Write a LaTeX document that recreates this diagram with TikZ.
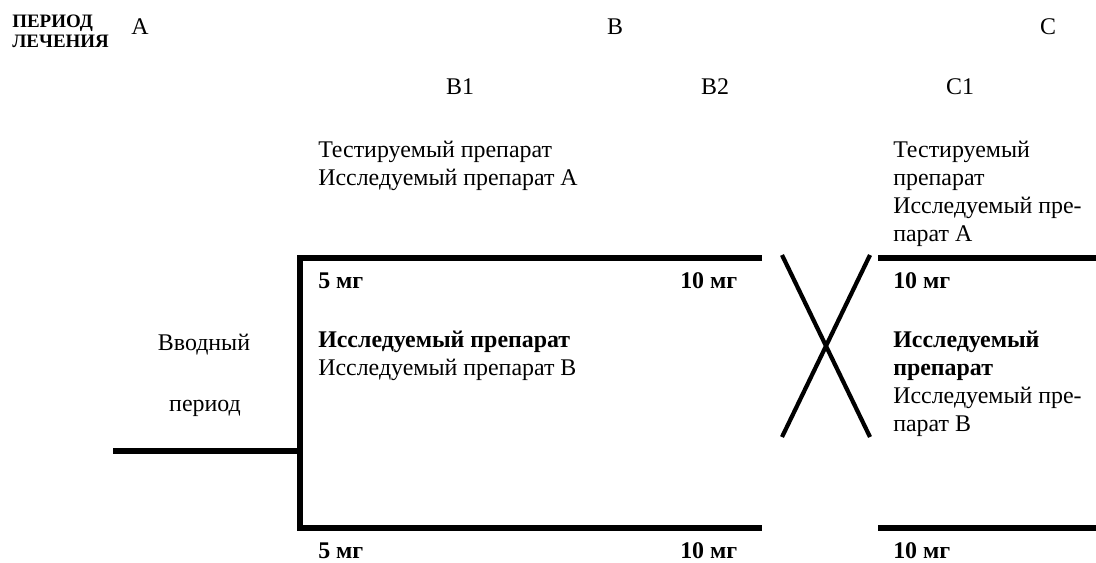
\documentclass[tikz,border=0pt]{standalone}
\usepackage{fontspec}
\setmainfont{Liberation Serif}
\usetikzlibrary{positioning}
\newcommand{\txtsize}{\fontsize{17}{19.9}\selectfont}

\begin{document}
\begin{tikzpicture}[x=0.025cm, y=0.025cm,
    lbl/.style={font=\txtsize, inner sep=0pt},
    dose/.style={font=\txtsize\bfseries, inner sep=0pt, anchor=west},
    hdr/.style={font=\fontsize{13.5}{14}\selectfont\bfseries, inner sep=0pt, align=left},
    block/.style={font=\txtsize, inner sep=0pt, anchor=north west, align=left},
    bar/.style={line width=3.6pt},
    cross/.style={line width=3pt}]
  \useasboundingbox (0,0) rectangle (1096,562);

  % Header
  \node[hdr, anchor=west] (period) at (12,531) {ПЕРИОД\\ЛЕЧЕНИЯ};
  \node[lbl] (perA) at (140,535) {A};
  \node[lbl] (perB) at (615,535) {B};
  \node[lbl] (perC) at (1048,535) {C};
  \node[lbl] (stepB1) at (460,475) {B1};
  \node[lbl] (stepB2) at (715,475) {B2};
  \node[lbl] (stepC1) at (960,475) {C1};

  % Run-in period
  \node[lbl] (runin1) at (204,217) {Вводный};
  \node[lbl] (runin2) at (205,154) {период};

  % Arms of period B
  \node[block] (armA) at (318,421) {Тестируемый препарат\\Исследуемый препарат А};
  \node[block] (armB) at (318,231) {\textbf{Исследуемый препарат}\\Исследуемый препарат В};
  \node[dose] (doseAa) at (318,281) {5 мг};
  \node[dose] (doseAb) at (680,281) {10 мг};
  \node[dose] (doseBa) at (318,11) {5 мг};
  \node[dose] (doseBb) at (680,11) {10 мг};

  % Arms of period C
  \node[block] (armCA) at (893,421) {Тестируемый\\препарат\\Исследуемый пре-\\парат А};
  \node[block] (armCB) at (893,231) {\textbf{Исследуемый}\\\textbf{препарат}\\Исследуемый пре-\\парат В};
  \node[dose] (doseCa) at (893,281) {10 мг};
  \node[dose] (doseCb) at (893,11) {10 мг};

  % Lines
  \coordinate (runStart) at (113,111);
  \coordinate (split) at (300,111);
  \coordinate (topL) at (300,304);
  \coordinate (botL) at (300,34);
  \coordinate (topR) at (762,304);
  \coordinate (botR) at (762,34);
  \coordinate (topC) at (878,304);
  \coordinate (botC) at (878,34);
  \coordinate (topEnd) at (1096,304);
  \coordinate (botEnd) at (1096,34);
  \coordinate (xa) at (782,307);
  \coordinate (xb) at (870,307);
  \coordinate (xc) at (782,125);
  \coordinate (xd) at (870,125);

  \draw[bar] (runStart) -- (split);
  \draw[bar] (topR) -- (topL) -- (botL) -- (botR);
  \draw[bar] (topC) -- (topEnd);
  \draw[bar] (botC) -- (botEnd);
  \draw[cross] (xa) -- (xd);
  \draw[cross] (xb) -- (xc);
\end{tikzpicture}
\end{document}
